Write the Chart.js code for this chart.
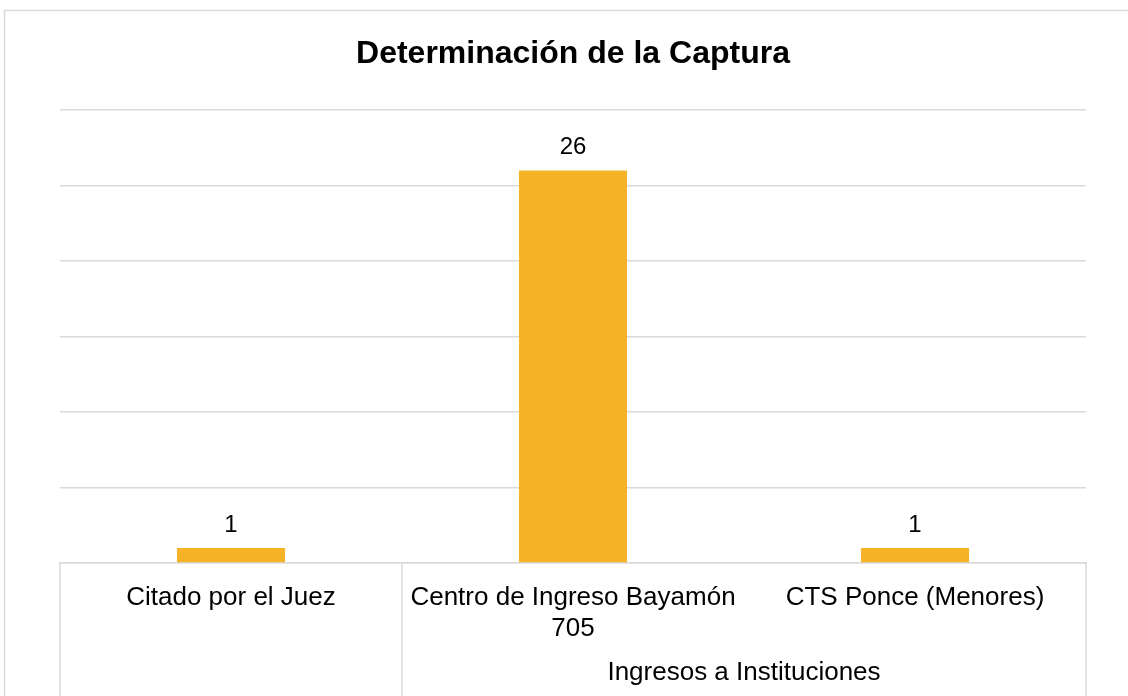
<!DOCTYPE html>
<html>
<head>
<meta charset="utf-8">
<script src="https://cdn.jsdelivr.net/npm/chart.js@4/dist/chart.umd.min.js"></script>
<style>
  html, body { margin: 0; padding: 0; background: #fff; }
  #wrap { width: 1128px; height: 696px; position: relative; }
</style>
</head>
<body>
<div id="wrap"><canvas id="c" width="1128" height="696"></canvas></div>
<script>
const TITLE = 'Determinación de la Captura';
const categories = ['Citado por el Juez', ['Centro de Ingreso Bayamón', '705'], 'CTS Ponce (Menores)'];
const groupLabels = ['', 'Ingresos a Instituciones', 'Ingresos a Instituciones'];
const values = [1, 26, 1];
const yMin = 0, yMax = 30, yStep = 5;

const FONT = "'Liberation Sans', Arial, sans-serif";
const GRID = '#d9d9d9';
const BAR = '#F6B328';

const decor = {
  id: 'decor',
  beforeDraw(chart) {
    const ctx = chart.ctx;
    ctx.save();
    ctx.fillStyle = '#fff';
    ctx.fillRect(0, 0, chart.width, chart.height);
    ctx.strokeStyle = GRID;
    ctx.lineWidth = 1.5;
    ctx.strokeRect(4.5, 10.5, chart.width + 10, chart.height + 10);
    ctx.restore();
  },
  afterDraw(chart) {
    const ctx = chart.ctx;
    const xs = chart.scales.x;
    const area = chart.chartArea;
    const n = categories.length;
    const half = (xs.getPixelForValue(1) - xs.getPixelForValue(0)) / 2;
    ctx.save();
    ctx.strokeStyle = GRID;
    ctx.lineWidth = 1.5;
    for (let i = 0; i <= n; i++) {
      const draw = (i === 0 || i === n) || groupLabels[i] !== groupLabels[i - 1];
      if (!draw) continue;
      const x = i < n ? xs.getPixelForValue(i) - half : xs.getPixelForValue(n - 1) + half;
      ctx.beginPath();
      ctx.moveTo(x, area.bottom);
      ctx.lineTo(x, chart.height);
      ctx.stroke();
    }
    ctx.fillStyle = '#000';
    ctx.font = '26px ' + FONT;
    ctx.textAlign = 'center';
    ctx.textBaseline = 'middle';
    let i = 0;
    while (i < n) {
      let j = i;
      while (j + 1 < n && groupLabels[j + 1] === groupLabels[i]) j++;
      if (groupLabels[i]) {
        const x0 = xs.getPixelForValue(i) - half;
        const x1 = xs.getPixelForValue(j) + half;
        ctx.fillText(groupLabels[i], (x0 + x1) / 2, 673);
      }
      i = j + 1;
    }
    const meta = chart.getDatasetMeta(0);
    ctx.font = '24px ' + FONT;
    ctx.textBaseline = 'alphabetic';
    meta.data.forEach((bar, k) => {
      ctx.fillText(String(values[k]), bar.x, bar.y - 16);
    });
    ctx.restore();
  }
};

new Chart(document.getElementById('c'), {
  type: 'bar',
  data: {
    labels: categories,
    datasets: [{
      data: values,
      backgroundColor: BAR,
      borderWidth: 0,
      barPercentage: 0.316,
      categoryPercentage: 1
    }]
  },
  options: {
    responsive: false,
    animation: false,
    devicePixelRatio: 1,
    layout: { padding: { left: 60, right: 42, top: 0, bottom: 0 } },
    plugins: {
      legend: { display: false },
      tooltip: { enabled: false },
      title: {
        display: true,
        text: TITLE,
        color: '#000',
        font: { family: FONT, size: 32, weight: 'bold', lineHeight: 1.2 },
        padding: { top: 35, bottom: 36.6 }
      }
    },
    scales: {
      x: {
        grid: { display: false, drawTicks: false },
        border: { display: true, color: GRID, width: 1.5 },
        ticks: {
          color: '#000',
          font: { family: FONT, size: 26, lineHeight: 1.2 },
          padding: 19,
          maxRotation: 0,
          minRotation: 0,
          autoSkip: false
        },
        afterFit(scale) { scale.height = 133; }
      },
      y: {
        min: yMin, max: yMax,
        ticks: { display: false, stepSize: yStep },
        grid: { color: GRID, lineWidth: 1.5, drawTicks: false },
        border: { display: false },
        afterFit(scale) { scale.width = 0; }
      }
    }
  },
  plugins: [decor]
});
</script>
</body>
</html>
